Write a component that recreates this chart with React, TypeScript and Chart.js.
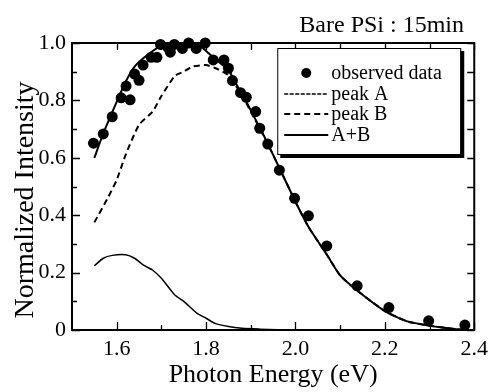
import { useEffect, useRef } from 'react';
import { Chart, registerables } from 'chart.js';

Chart.register(...registerables);

const FONT = "'Liberation Serif', 'Times New Roman', Times, serif";

const TITLE = 'Bare PSi : 15min';
const X_TITLE = 'Photon Energy (eV)';
const Y_TITLE = 'Normalized Intensity';

const X_TICKS = [1.6, 1.8, 2.0, 2.2, 2.4];
const X_MINOR_TICKS = [1.7, 1.9, 2.1, 2.3];
const Y_TICKS = [0, 0.2, 0.4, 0.6, 0.8, 1.0];
const Y_MINOR_TICKS = [0.1, 0.3, 0.5, 0.7, 0.9];

const OBS_X = [1.548, 1.570, 1.590, 1.610, 1.621, 1.630, 1.640, 1.650, 1.659, 1.677, 1.690, 1.698, 1.715, 1.720, 1.729, 1.747, 1.761, 1.778, 1.798, 1.816, 1.840, 1.850, 1.859, 1.877, 1.890, 1.911, 1.920, 1.938, 1.964, 1.998, 2.029, 2.070, 2.138, 2.209, 2.298, 2.379];
const OBS_Y = [0.651, 0.683, 0.743, 0.809, 0.850, 0.802, 0.892, 0.870, 0.923, 0.950, 0.950, 0.995, 0.984, 0.968, 0.995, 0.981, 1.0, 0.981, 1.0, 0.941, 0.941, 0.912, 0.869, 0.827, 0.811, 0.761, 0.703, 0.648, 0.557, 0.459, 0.398, 0.293, 0.154, 0.078, 0.032, 0.017];

const PEAK_A_X = [1.55, 1.57, 1.59, 1.62, 1.64, 1.66, 1.68, 1.70, 1.73, 1.75, 1.78, 1.80, 1.82, 1.85, 1.88, 1.92, 1.96, 2.00];
const PEAK_A_Y = [0.224, 0.25, 0.26, 0.262, 0.25, 0.226, 0.209, 0.18, 0.122, 0.10, 0.058, 0.041, 0.023, 0.012, 0.006, 0.003, 0.001, 0];

const PEAK_B_X = [1.55, 1.58, 1.60, 1.62, 1.65, 1.68, 1.70, 1.73, 1.75, 1.77, 1.80, 1.82, 1.85, 1.87, 1.89, 1.91, 1.93, 1.95, 1.97, 2.00, 2.03, 2.07, 2.10, 2.14, 2.20, 2.25, 2.30, 2.36, 2.39];
const PEAK_B_Y = [0.375, 0.46, 0.523, 0.61, 0.715, 0.76, 0.815, 0.885, 0.90, 0.918, 0.923, 0.913, 0.888, 0.843, 0.79, 0.732, 0.673, 0.61, 0.545, 0.447, 0.357, 0.263, 0.19, 0.135, 0.066, 0.03, 0.015, 0.003, 0];

const SUM_X = [1.55, 1.57, 1.60, 1.62, 1.64, 1.67, 1.70, 1.73, 1.76, 1.79, 1.81, 1.85, 1.87, 1.89, 1.91, 1.93, 1.95, 1.97, 2.00, 2.03, 2.07, 2.10, 2.14, 2.20, 2.25, 2.30, 2.36, 2.39];
const SUM_Y = [0.60, 0.685, 0.795, 0.865, 0.918, 0.96, 0.99, 1.0, 1.0, 0.985, 0.958, 0.905, 0.85, 0.795, 0.735, 0.675, 0.61, 0.545, 0.447, 0.357, 0.263, 0.19, 0.135, 0.066, 0.03, 0.015, 0.003, 0];

const LABELS = ['observed data', 'peak A', 'peak B', 'A+B'];

const zip = (xs: number[], ys: number[]) => xs.map((x, i) => ({ x, y: ys[i] }));

const decorPlugin = {
  id: 'decor',
  afterDraw(chart: any) {
    const { ctx, chartArea, scales } = chart;
    const { left, right, top, bottom } = chartArea;
    const xs = scales.x;
    const ys = scales.y;
    ctx.save();
    // frame
    ctx.strokeStyle = '#000';
    ctx.lineWidth = 2;
    ctx.strokeRect(left, top, right - left, bottom - top);
    // ticks
    ctx.lineWidth = 1.3;
    ctx.beginPath();
    const xTickVals = X_TICKS.concat(X_MINOR_TICKS);
    xTickVals.forEach((v) => {
      const px = Math.round(xs.getPixelForValue(v)) + 0.5;
      const major = X_TICKS.includes(v);
      ctx.moveTo(px, bottom);
      ctx.lineTo(px, bottom - (major ? 8 : 5));
      ctx.moveTo(px, top);
      ctx.lineTo(px, top + 7);
    });
    const yTickVals = Y_TICKS.concat(Y_MINOR_TICKS);
    yTickVals.forEach((v) => {
      const py = Math.round(ys.getPixelForValue(v)) + 0.5;
      const major = Y_TICKS.includes(v);
      ctx.moveTo(left, py);
      ctx.lineTo(left + (major ? 8 : 5), py);
      ctx.moveTo(right, py);
      ctx.lineTo(right - 7, py);
    });
    ctx.stroke();

    // title
    ctx.fillStyle = '#000';
    ctx.font = `24px ${FONT}`;
    ctx.textAlign = 'right';
    ctx.textBaseline = 'alphabetic';
    ctx.fillText(TITLE, 464, 31.5);

    // y title
    ctx.save();
    ctx.font = `28px ${FONT}`;
    ctx.translate(33, 200);
    ctx.rotate(-Math.PI / 2);
    ctx.textAlign = 'center';
    ctx.textBaseline = 'alphabetic';
    ctx.fillText(Y_TITLE, 0, 0);
    ctx.restore();

    // legend
    const bl = right - 197;
    const bt = top + 5;
    const bw = 183;
    const bh = 106;
    ctx.fillStyle = '#000';
    ctx.fillRect(bl + 3, bt + 3, bw + 1, bh + 1);
    ctx.fillStyle = '#fff';
    ctx.fillRect(bl, bt, bw, bh);
    ctx.strokeStyle = '#000';
    ctx.lineWidth = 1;
    ctx.strokeRect(bl + 0.5, bt + 0.5, bw, bh);
    const rows = [25, 46, 66, 87];
    ctx.font = `20px ${FONT}`;
    ctx.textAlign = 'left';
    ctx.textBaseline = 'middle';
    LABELS.forEach((lab, i) => {
      const ry = bt + rows[i];
      ctx.fillStyle = '#000';
      if (i === 0) {
        ctx.beginPath();
        ctx.arc(bl + 29, ry, 5, 0, Math.PI * 2);
        ctx.fill();
      } else {
        ctx.beginPath();
        ctx.lineWidth = i === 1 ? 1.5 : 2;
        ctx.setLineDash(i === 1 ? [4, 1.5] : i === 2 ? [6, 4] : []);
        ctx.moveTo(bl + 7, ry);
        ctx.lineTo(bl + 51, ry);
        ctx.stroke();
        ctx.setLineDash([]);
      }
      ctx.fillText(lab, bl + 54, ry + 1);
    });
    ctx.restore();
  },
};

export default function App() {
  const ref = useRef<HTMLCanvasElement | null>(null);
  useEffect(() => {
    document.body.style.margin = '0';
    if (!ref.current) return;
    const chart = new Chart(ref.current, {
      type: 'scatter',
      data: {
        datasets: [
          {
            type: 'scatter',
            label: LABELS[0],
            data: zip(OBS_X, OBS_Y),
            backgroundColor: '#000',
            borderColor: '#000',
            pointRadius: 5.5,
            pointHoverRadius: 5.5,
            borderWidth: 0,
            clip: false,
          },
          {
            type: 'line',
            label: LABELS[1],
            data: zip(PEAK_A_X, PEAK_A_Y),
            borderColor: '#000',
            borderWidth: 1.5,
            pointRadius: 0,
            fill: false,
            tension: 0.2,
          },
          {
            type: 'line',
            label: LABELS[2],
            data: zip(PEAK_B_X, PEAK_B_Y),
            borderColor: '#000',
            borderWidth: 2,
            borderDash: [6, 4],
            pointRadius: 0,
            fill: false,
            tension: 0.2,
          },
          {
            type: 'line',
            label: LABELS[3],
            data: zip(SUM_X, SUM_Y),
            borderColor: '#000',
            borderWidth: 2,
            pointRadius: 0,
            fill: false,
            tension: 0.2,
          },
        ],
      } as any,
      options: {
        animation: false,
        responsive: false,
        layout: { padding: { left: 0, right: 18, top: 43, bottom: 0 } },
        plugins: {
          legend: { display: false },
          tooltip: { enabled: false },
          title: { display: false },
        },
        scales: {
          x: {
            type: 'linear',
            min: 1.5,
            max: 2.4,
            afterBuildTicks: (s: any) => {
              s.ticks = X_TICKS.map((v) => ({ value: v }));
            },
            afterFit: (s: any) => {
              s.height = 62;
            },
            grid: { display: false, drawTicks: false },
            border: { display: false },
            ticks: {
              font: { family: FONT, size: 22 },
              color: '#000',
              padding: 6,
              autoSkip: false,
              maxRotation: 0,
              callback: (v: any) => Number(v).toFixed(1),
            },
            title: {
              display: true,
              text: X_TITLE,
              font: { family: FONT, size: 26 },
              color: '#000',
              padding: { top: 0, bottom: 1 },
            },
          },
          y: {
            type: 'linear',
            min: 0,
            max: 1,
            afterBuildTicks: (s: any) => {
              s.ticks = Y_TICKS.map((v) => ({ value: v }));
            },
            afterFit: (s: any) => {
              s.width = 72;
            },
            grid: { display: false, drawTicks: false },
            border: { display: false },
            ticks: {
              font: { family: FONT, size: 22 },
              color: '#000',
              padding: 6,
              autoSkip: false,
              callback: (v: any) => (Number(v) === 0 ? '0' : Number(v).toFixed(1)),
            },
          },
        },
      } as any,
      plugins: [decorPlugin],
    });
    return () => chart.destroy();
  }, []);
  return (
    <div style={{ width: 494, height: 392 }}>
      <canvas ref={ref} width={494} height={392} />
    </div>
  );
}
